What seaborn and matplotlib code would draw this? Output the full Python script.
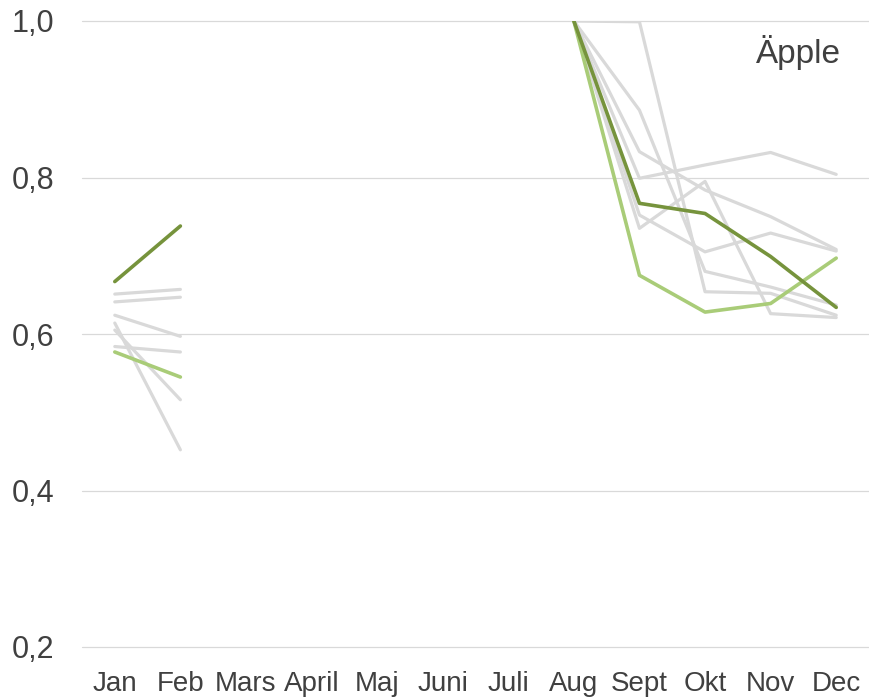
import numpy as np
import pandas as pd
import matplotlib
matplotlib.use("Agg")
import matplotlib.pyplot as plt
import seaborn as sns

months = ["Jan", "Feb", "Mars", "April", "Maj", "Juni", "Juli",
          "Aug", "Sept", "Okt", "Nov", "Dec"]
N = None

# Reference years (grey)
year_a = [0.651, 0.657, N, N, N, N, N, 1.000, 0.799, 0.816, 0.832, 0.804]
year_b = [0.641, 0.647, N, N, N, N, N, 1.000, 0.833, 0.784, 0.750, 0.708]
year_c = [0.624, 0.597, N, N, N, N, N, 1.000, 0.752, 0.705, 0.729, 0.706]
year_d = [0.614, 0.452, N, N, N, N, N, 1.000, 0.735, 0.795, 0.626, 0.621]
year_e = [0.605, 0.516, N, N, N, N, N, 1.000, 0.999, 0.654, 0.652, 0.624]
year_f = [0.584, 0.577, N, N, N, N, N, 1.000, 0.886, 0.680, 0.660, 0.637]

# Highlighted seasons
season_light = [0.577, 0.545, N, N, N, N, N, 1.000, 0.675, 0.628, 0.639, 0.697]
season_dark = [0.667, 0.738, N, N, N, N, N, 1.000, 0.767, 0.754, 0.699, 0.634]

yticks = [0.2, 0.4, 0.6, 0.8, 1.0]
ytick_labels = ["0,2", "0,4", "0,6", "0,8", "1,0"]

GREY = "#D9D9D9"
LIGHT = "#A9CC78"
DARK = "#76933C"
TEXT = "#404040"


def to_frame(name, values):
    """Long-form frame; each unbroken run of values gets its own unit id."""
    rows = []
    seg = 0
    prev_nan = True
    for i, v in enumerate(values):
        if v is None:
            prev_nan = True
            continue
        if prev_nan:
            seg += 1
            prev_nan = False
        rows.append({"series": name, "unit": f"{name}-{seg}", "pos": i, "value": v})
    return pd.DataFrame(rows)


sns.set_theme(style="white")
plt.rcParams["font.family"] = ["Liberation Sans", "DejaVu Sans"]

fig = plt.figure(figsize=(8.69, 7.00), dpi=100)
ax = fig.add_axes([82 / 869, 1 - 647 / 700, 1 - 82 / 869, (647 - 21) / 700])

greys = {"a": year_a, "b": year_b, "c": year_c, "d": year_d, "e": year_e, "f": year_f}
grey_df = pd.concat([to_frame(k, v) for k, v in greys.items()], ignore_index=True)
sns.lineplot(data=grey_df, x="pos", y="value", units="unit", estimator=None,
             color=GREY, linewidth=2.3, ax=ax, legend=False, zorder=2)

light_df = to_frame("light", season_light)
sns.lineplot(data=light_df, x="pos", y="value", units="unit", estimator=None,
             color=LIGHT, linewidth=2.6, ax=ax, legend=False, zorder=3)

dark_df = to_frame("dark", season_dark)
sns.lineplot(data=dark_df, x="pos", y="value", units="unit", estimator=None,
             color=DARK, linewidth=2.6, ax=ax, legend=False, zorder=4)

ax.set_xlim(-0.5, 11.5)
ax.set_ylim(0.2, 1.0)
ax.set_xticks(range(len(months)))
ax.set_xticklabels(months, fontsize=20, color=TEXT)
ax.set_yticks(yticks)
ax.set_yticklabels(ytick_labels, fontsize=22, color=TEXT)
ax.set_xlabel("")
ax.set_ylabel("")

for y in yticks:
    ax.axhline(y, color=GREY, linewidth=0.9, zorder=1, clip_on=False)

for s in ax.spines.values():
    s.set_visible(False)
ax.tick_params(axis="both", length=0)
ax.tick_params(axis="y", pad=20)
ax.tick_params(axis="x", pad=17)

ax.text(0.964, 0.977, "Äpple", transform=ax.transAxes, ha="right", va="top",
        fontsize=24, color=TEXT)

fig.savefig("out.png", dpi=100)
